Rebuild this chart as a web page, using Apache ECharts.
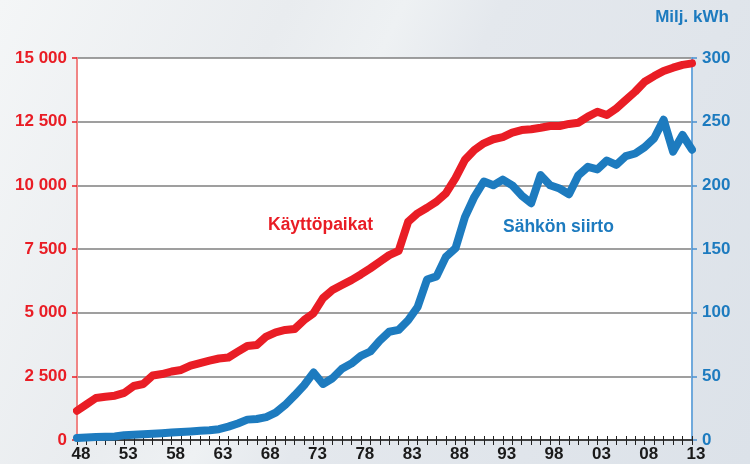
<!DOCTYPE html>
<html>
<head>
<meta charset="utf-8">
<script src="https://cdn.jsdelivr.net/npm/echarts@6/dist/echarts.min.js"></script>
<style>
  html, body { margin: 0; padding: 0; }
  body {
    width: 750px; height: 464px; overflow: hidden;
    background: linear-gradient(115deg, #f4f6f7 0%, #e9ecef 30%, #eef1f3 42%, #e4e8ed 52%, #dce2e9 100%);
  }
  #main { width: 750px; height: 464px; }
</style>
</head>
<body>
<div id="main"></div>
<script>
// Vuodet 1948–2013
const years = [];
for (let y = 1948; y <= 2013; y++) years.push(String(y).slice(2));

// Käyttöpaikat (vasen akseli)
const kayttopaikat = [
  1150, 1400, 1650, 1700, 1740, 1850, 2120, 2200, 2530, 2590,
  2690, 2750, 2920, 3020, 3115, 3200, 3240, 3470, 3690, 3730,
  4060, 4230, 4320, 4360, 4710, 4980, 5570, 5890, 6090, 6280,
  6500, 6740, 7000, 7260, 7430, 8570, 8900, 9120, 9360, 9690,
  10280, 11000, 11390, 11650, 11810, 11890, 12070, 12170, 12200, 12260,
  12330, 12330, 12410, 12460, 12700, 12890, 12760, 13020, 13350, 13680,
  14070, 14290, 14490, 14620, 14730, 14790
];

// Sähkön siirto, Milj. kWh (oikea akseli)
const sahkonSiirto = [
  1.5, 2, 2.3, 2.5, 2.7, 3.8, 4.2, 4.5, 4.9, 5.3,
  5.8, 6.2, 6.7, 7.2, 7.6, 8.5, 10.5, 13, 16, 16.5,
  18, 21.5, 27.5, 35, 43, 53, 44, 48.5, 56, 60,
  66, 69.5, 78, 85, 86.5, 94, 104.5, 126, 128.5, 144,
  150.5, 175, 191, 203, 200, 204.5, 200, 192, 186, 208,
  200, 197.5, 193, 208, 214.5, 212.5, 219.5, 216, 223, 225,
  230, 237, 251.5, 226.5, 239.5, 228
];

const RED = "#e91d25";
const BLUE = "#1d7bbf";
const FONT = "Liberation Sans";

document.addEventListener("DOMContentLoaded", () => {
  const chart = echarts.init(document.getElementById("main"));

  const option = {
    animation: false,
    backgroundColor: "transparent",
    grid: {
      left: 77, right: 58, top: 58, bottom: 24,
      show: true, backgroundColor: "#ffffff", borderWidth: 0
    },
    xAxis: [
      {
        type: "category",
        data: years,
        boundaryGap: false,
        axisLine: { lineStyle: { color: "#222", width: 1.5 } },
        axisTick: { interval: 0, length: 5, lineStyle: { color: "#222", width: 1 } },
        axisLabel: {
          interval: 4, color: "#1a1a1a", fontFamily: FONT, fontWeight: "bold",
          fontSize: 17, margin: 6, padding: [0, 0, 0, 8]
        },
        splitLine: { show: false }
      },
      {
        // sisäänpäin osoittavat tikit (ristikkäinen tikkiviiva)
        type: "category",
        data: years,
        boundaryGap: false,
        position: "bottom",
        axisLine: { show: false },
        axisTick: { interval: 0, inside: true, length: 4, lineStyle: { color: "#222", width: 1 } },
        axisLabel: { show: false },
        splitLine: { show: false }
      }
    ],
    yAxis: [
      {
        type: "value", min: 0, max: 15000, interval: 2500, position: "left",
        axisLine: { show: true, lineStyle: { color: "#f08585", width: 2 } },
        axisTick: { show: true, length: 5, lineStyle: { color: "#e91d25", width: 1.5 } },
        axisLabel: {
          color: RED, fontFamily: FONT, fontWeight: "bold", fontSize: 17, margin: 10,
          formatter: (v) => v >= 1000 ? Math.floor(v / 1000) + " " + String(v % 1000).padStart(3, "0") : String(v)
        },
        splitLine: { show: true, lineStyle: { color: "#7f7f7f", width: 1.5 } }
      },
      {
        type: "value", min: 0, max: 300, interval: 50, position: "right",
        name: "Milj. kWh",
        nameLocation: "end",
        nameGap: 32,
        nameTextStyle: { color: BLUE, fontFamily: FONT, fontWeight: "bold", fontSize: 17, align: "center" },
        axisLine: { show: true, lineStyle: { color: "#6fa9dc", width: 2 } },
        axisTick: { show: true, length: 5, lineStyle: { color: "#4a90d0", width: 1.5 } },
        axisLabel: { color: BLUE, fontFamily: FONT, fontWeight: "bold", fontSize: 17, margin: 10 },
        splitLine: { show: false }
      }
    ],
    series: [
      {
        name: "Käyttöpaikat",
        type: "line",
        yAxisIndex: 0,
        data: kayttopaikat,
        showSymbol: false,
        lineStyle: { color: RED, width: 8, join: "round", cap: "round" },
        z: 3
      },
      {
        name: "Sähkön siirto",
        type: "line",
        yAxisIndex: 1,
        data: sahkonSiirto,
        showSymbol: false,
        lineStyle: { color: BLUE, width: 8, join: "round", cap: "round" },
        z: 4
      }
    ],
    graphic: [
      {
        type: "text", left: 268, top: 216,
        style: { text: "Käyttöpaikat", fill: RED, font: "bold 17.5px " + FONT }
      },
      {
        type: "text", left: 503, top: 218,
        style: { text: "Sähkön siirto", fill: BLUE, font: "bold 17.5px " + FONT }
      }
    ]
  };

  chart.setOption(option);
});
</script>
</body>
</html>
